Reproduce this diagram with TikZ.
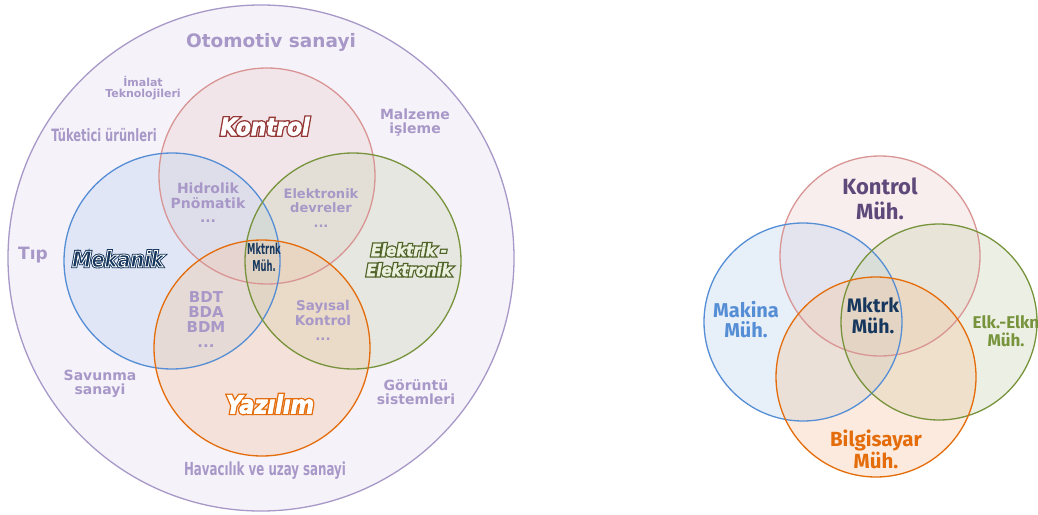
\documentclass[tikz,border=0pt]{standalone}
\usepackage{fontspec}
\usepackage{tikz}
\setmainfont{DejaVu Sans}
\newfontfamily\narrowfont{DejaVu Sans Condensed}
\newfontfamily\dinfont{Fira Sans}
\definecolor{Lav}{HTML}{A898C8}
\definecolor{LavFill}{HTML}{F5F2FA}
\definecolor{PinkLine}{HTML}{D99594}
\definecolor{BlueLine}{HTML}{558ED5}
\definecolor{GreenLine}{HTML}{77933C}
\definecolor{OrangeLine}{HTML}{E46C0A}
\definecolor{DarkRed}{HTML}{943634}
\definecolor{Navy}{HTML}{17375E}
\definecolor{DarkGreen}{HTML}{4F6228}
\definecolor{PaleGreen}{HTML}{EBF1DE}
\definecolor{Plum}{HTML}{5F497A}
\tikzset{
  ring/.style={line width=1.2pt, fill opacity=0.35},
  field/.style={text=Lav, font=\bfseries, align=center, inner sep=0pt},
  narrowfield/.style={text=Lav, font=\narrowfont\bfseries, align=center, inner sep=0pt},
  discipline/.style={font=\narrowfont\bfseries\itshape, align=center, inner sep=0pt},
  dept/.style={font=\dinfont\bfseries, align=center, inner sep=0pt}
}
% squeezed, tall lettering
\newcommand\squeeze[2]{\scalebox{#1}[1]{\begin{tabular}{@{}c@{}}#2\end{tabular}}}
% stroked lettering: stroke colour, fill (pdf rgb), stroke width, text
\newcommand\outlined[4]{{\color{#1}\special{pdf:code 2 Tr #3 w #2 rg}%
  \begin{tabular}{@{}c@{}}#4\end{tabular}\special{pdf:code 0 Tr}}}
\begin{document}
\begin{tikzpicture}[x=1pt, y=-1pt]
	\useasboundingbox (0,0) rectangle (1038,514);

	\fill[LavFill] (261,258) circle(253);
	\draw[Lav, line width=1.3pt] (261,258) circle(253);

	\fill[PinkLine!45, ring] (267,176) circle(108);
	\fill[BlueLine!40, ring] (172,261) circle(108);
	\fill[GreenLine!40, ring] (353,261) circle(108);
	\fill[OrangeLine!40, ring] (262,348) circle(108);
	\draw[PinkLine, line width=1.3pt] (267,176) circle(108);
	\draw[BlueLine, line width=1.3pt] (172,261) circle(108);
	\draw[GreenLine, line width=1.3pt] (353,261) circle(108);
	\draw[OrangeLine, line width=1.3pt] (262,348) circle(108);

	\node[field, font=\bfseries\fontsize{18.5}{20}\selectfont] (otomotiv) at (271,42) {Otomotiv sanayi};
	\node[field, font=\bfseries\fontsize{11}{11}\selectfont] (imalat) at (143,88) {İmalat\\Teknolojileri};
	\node[field, font=\bfseries\fontsize{14}{14}\selectfont] (malzeme) at (415,123) {Malzeme\\işleme};
	\node[narrowfield, font=\narrowfont\bfseries\fontsize{17}{18}\selectfont] (tuketici) at (104,138) {\squeeze{0.75}{Tüketici ürünleri}};
	\node[field, font=\bfseries\fontsize{14}{14.5}\selectfont] (hidrolik) at (208,203) {Hidrolik\\Pnömatik\\...};
	\node[field, font=\bfseries\fontsize{13}{14.5}\selectfont] (devreler) at (321,208) {Elektronik\\devreler\\...};
	\node[field, font=\bfseries\fontsize{17}{18}\selectfont] (tip) at (33,255) {Tıp};
	\node[field, font=\bfseries\fontsize{15}{15}\selectfont] (bdt) at (206,320) {BDT\\BDA\\BDM\\...};
	\node[field, font=\bfseries\fontsize{13.5}{15}\selectfont] (sayisal) at (323,320) {Sayısal\\Kontrol\\...};
	\node[field, font=\bfseries\fontsize{14}{14}\selectfont] (savunma) at (100,384) {Savunma\\sanayi};
	\node[field, font=\bfseries\fontsize{14}{14}\selectfont] (goruntu) at (416,392) {Görüntü\\sistemleri};
	\node[narrowfield, font=\narrowfont\bfseries\fontsize{18}{19}\selectfont] (havacilik) at (265,472) {\squeeze{0.73}{Havacılık ve uzay sanayi}};

	\node[discipline, font=\narrowfont\bfseries\itshape\fontsize{24}{26}\selectfont] (kontrolback) at (265,130) {\outlined{DarkRed}{0.58 0.21 0.2}{3.4}{Kontrol}};
	\node[discipline, font=\narrowfont\bfseries\itshape\fontsize{24}{26}\selectfont] (kontrol) at (265,130) {\outlined{white}{1 1 1}{0.7}{Kontrol}};
	\node[discipline, font=\narrowfont\bfseries\itshape\fontsize{21.5}{22}\selectfont] (mekanikback) at (118,262) {\outlined{Navy}{0.09 0.216 0.369}{2.6}{Mekanik}};
	\node[discipline, font=\narrowfont\bfseries\itshape\fontsize{21.5}{22}\selectfont] (mekanik) at (118,262) {\outlined{white}{0.09 0.216 0.369}{0.8}{Mekanik}};
	\node[discipline, font=\narrowfont\bfseries\itshape\fontsize{16.5}{20}\selectfont] (elektrikback) at (409,262) {\outlined{DarkGreen}{0.31 0.384 0.157}{3}{Elektrik -\\Elektronik}};
	\node[discipline, font=\narrowfont\bfseries\itshape\fontsize{16.5}{20}\selectfont] (elektrik) at (409,262) {\outlined{PaleGreen}{0.92 0.945 0.87}{0.5}{Elektrik -\\Elektronik}};
	\node[discipline, font=\narrowfont\bfseries\itshape\fontsize{25}{27}\selectfont] (yazilimback) at (270,408) {\outlined{OrangeLine}{0.894 0.424 0.039}{3.4}{Yazılım}};
	\node[discipline, font=\narrowfont\bfseries\itshape\fontsize{25}{27}\selectfont] (yazilim) at (270,408) {\outlined{white}{1 1 1}{0.7}{Yazılım}};
	\node[discipline, text=Navy, font=\narrowfont\bfseries\fontsize{15}{17}\selectfont] (mktrnk) at (264,260) {\squeeze{0.62}{Mktrnk\\Müh.}};

	\fill[PinkLine!45, ring] (880,256) circle(100);
	\fill[BlueLine!40, ring] (803,322) circle(99);
	\fill[GreenLine!40, ring] (939,322) circle(98);
	\fill[OrangeLine!40, ring] (876,377) circle(100);
	\draw[PinkLine, line width=1.3pt] (880,256) circle(100);
	\draw[BlueLine, line width=1.3pt] (803,322) circle(99);
	\draw[GreenLine, line width=1.3pt] (939,322) circle(98);
	\draw[OrangeLine, line width=1.3pt] (876,377) circle(100);

	\node[dept, text=Plum, font=\dinfont\bfseries\fontsize{22}{25}\selectfont] (kontrolmuh) at (880,199) {Kontrol\\Müh.};
	\node[dept, text=BlueLine, font=\dinfont\bfseries\fontsize{20}{20}\selectfont] (makina) at (746,320) {Makina\\Müh.};
	\node[dept, text=Navy, font=\dinfont\bfseries\fontsize{19.5}{21}\selectfont] (mktrk) at (873,316) {Mktrk\\Müh.};
	\node[dept, text=GreenLine, font=\dinfont\bfseries\fontsize{17}{18}\selectfont] (elkmuh) at (1006,331) {Elk.-Elkn\\Müh.};
	\node[dept, text=OrangeLine, font=\dinfont\bfseries\fontsize{20.5}{20}\selectfont] (bilgisayar) at (876,449) {Bilgisayar\\Müh.};
\end{tikzpicture}
\end{document}
